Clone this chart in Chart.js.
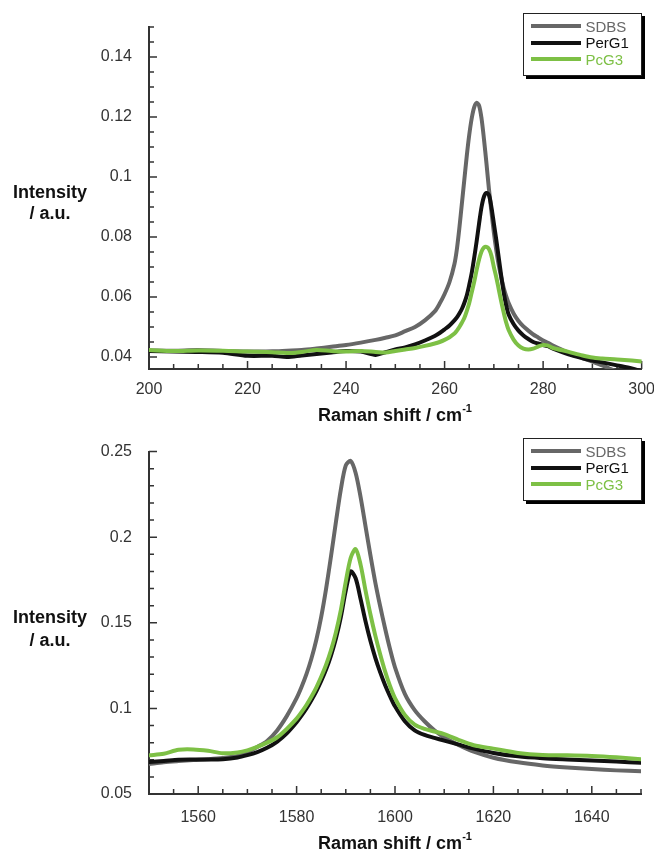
<!DOCTYPE html>
<html>
<head>
<meta charset="utf-8">
<script src="https://cdn.jsdelivr.net/npm/chart.js@4.4.1/dist/chart.umd.min.js"></script>
<style>
  html, body { margin: 0; padding: 0; background: #fff; }
  #page { position: relative; width: 654px; height: 852px; overflow: hidden; background: #fff;
          font-family: 'Liberation Sans', Arial, Helvetica, sans-serif; }
  #page canvas { position: absolute; left: 0; }
  .ylab { position: absolute; left: 0; width: 100px; text-align: center; font-weight: bold;
          font-size: 18px; color: #111; }
  .xlab { position: absolute; left: 149px; width: 492px; text-align: center; font-weight: bold;
          font-size: 18px; line-height: 22px; color: #111; white-space: nowrap; }
  .xlab sup { font-size: 11px; line-height: 0; position: relative; top: -2px; }
  .legend { position: absolute; left: 523px; width: 117px; height: 57px; border: 1.5px solid #222;
            box-shadow: 3px 3px 0 #000; background: #fff; padding-top: 4px; }
  .legend .row { display: flex; align-items: center; height: 16.5px; font-size: 15px; }
  .legend .swatch { width: 50px; height: 4px; margin-left: 6.5px; margin-right: 5px; }
</style>
</head>
<body>
<div id="page">
  <canvas id="rbm" width="666" height="425" style="top:0px"></canvas>
  <canvas id="gband" width="658" height="427" style="top:425px"></canvas>

  <div class="ylab" style="top:182px; line-height:21px">Intensity<br>/ a.u.</div>
  <div class="ylab" style="top:606px; line-height:23px">Intensity<br>/ a.u.</div>

  <div class="xlab" style="top:404px">Raman shift / cm<sup>-1</sup></div>
  <div class="xlab" style="top:832px">Raman shift / cm<sup>-1</sup></div>

  <div class="legend" id="legendRBM" style="top:13px"></div>
  <div class="legend" id="legendG" style="top:438px"></div>
</div>

<script>
// Samples
const seriesNames = ['SDBS', 'PerG1', 'PcG3'];
const seriesColours = ['#676767', '#111111', '#7dc045'];

// Radial breathing mode region (cm^-1)
const shiftRBM = [200, 205, 210, 215, 220, 225, 228, 231, 234, 237,
                  240, 243, 246, 248, 250, 252, 254, 256, 258, 259,
                  260, 261, 262, 262.5, 263, 263.5, 264, 264.5, 265, 265.5,
                  266, 266.5, 267, 267.5, 268, 268.5, 269, 269.5, 270, 270.5,
                  271, 271.5, 272, 272.5, 273, 274, 275, 276, 277, 278,
                  279, 280, 281, 282, 285, 288, 290, 292, 295, 298, 300];
const sdbsRBM = [0.0422, 0.0421, 0.0423, 0.0420, 0.0418, 0.0419, 0.0421, 0.0423, 0.0428, 0.0434,
                 0.0440, 0.0448, 0.0457, 0.0464, 0.0472, 0.0486, 0.0500, 0.0522, 0.0552, 0.0578,
                 0.0610, 0.0650, 0.0710, 0.0760, 0.0830, 0.0910, 0.0990, 0.1070, 0.1140, 0.1195,
                 0.1232, 0.1247, 0.1238, 0.1195, 0.1125, 0.1045, 0.0960, 0.0885, 0.0815, 0.0755,
                 0.0705, 0.0665, 0.0630, 0.0603, 0.0580, 0.0545, 0.0520, 0.0502, 0.0488, 0.0475,
                 0.0465, 0.0455, 0.0447, 0.0438, 0.0415, 0.0396, 0.0385, 0.0372, 0.0352, 0.0338, 0.0330];
const perg1RBM = [0.0420, 0.0418, 0.0417, 0.0414, 0.0404, 0.0404, 0.0400, 0.0405, 0.0410, 0.0415,
                  0.0420, 0.0418, 0.0407, 0.0416, 0.0425, 0.0432, 0.0442, 0.0455, 0.0470, 0.0480,
                  0.0492, 0.0505, 0.0522, 0.0532, 0.0545, 0.0560, 0.0580, 0.0605, 0.0640, 0.0680,
                  0.0730, 0.0785, 0.0845, 0.0900, 0.0935, 0.0947, 0.0940, 0.0900, 0.0845, 0.0790,
                  0.0730, 0.0670, 0.0615, 0.0572, 0.0542, 0.0510, 0.0488, 0.0472, 0.0460, 0.0450,
                  0.0445, 0.0440, 0.0436, 0.0428, 0.0410, 0.0396, 0.0388, 0.0382, 0.0372, 0.0362, 0.0352];
const pcg3RBM = [0.0423, 0.0420, 0.0422, 0.0421, 0.0418, 0.0416, 0.0413, 0.0417, 0.0423, 0.0420,
                 0.0418, 0.0420, 0.0417, 0.0415, 0.0420, 0.0425, 0.0430, 0.0437, 0.0445, 0.0450,
                 0.0457, 0.0466, 0.0478, 0.0488, 0.0500, 0.0514, 0.0530, 0.0553, 0.0580, 0.0615,
                 0.0650, 0.0690, 0.0725, 0.0752, 0.0765, 0.0767, 0.0760, 0.0738, 0.0700, 0.0665,
                 0.0625, 0.0585, 0.0548, 0.0515, 0.0490, 0.0458, 0.0438, 0.0428, 0.0425, 0.0428,
                 0.0435, 0.0440, 0.0438, 0.0430, 0.0418, 0.0405, 0.0398, 0.0395, 0.0392, 0.0388, 0.0385];
const xTicksRBM = [200, 220, 240, 260, 280, 300];
const yTicksRBM = [0.04, 0.06, 0.08, 0.1, 0.12, 0.14];

// G band region (cm^-1)
const shiftG = [1550, 1553, 1556, 1559, 1562, 1565, 1568, 1570, 1572, 1574, 1576, 1578, 1580,
                1581, 1582, 1583, 1584, 1585, 1586, 1587, 1588, 1589, 1590,
                1591, 1592, 1593, 1594, 1595, 1596, 1597, 1598, 1599, 1600,
                1602, 1604, 1606, 1608, 1610, 1613, 1616, 1620, 1625, 1630, 1635, 1640, 1645, 1650];
const sdbsG = [0.0675, 0.0685, 0.0692, 0.0698, 0.0703, 0.0710, 0.0722, 0.0745, 0.0775, 0.0810, 0.0870, 0.0955, 0.1060,
               0.1125, 0.1200, 0.1290, 0.1400, 0.1535, 0.1700, 0.1890, 0.2090, 0.2280, 0.2420,
               0.2445, 0.2375, 0.2235, 0.2065, 0.1895, 0.1735, 0.1595, 0.1465, 0.1345, 0.1240,
               0.1085, 0.0990, 0.0925, 0.0872, 0.0830, 0.0785, 0.0747, 0.0712, 0.0685, 0.0667, 0.0655, 0.0646, 0.0638, 0.0633];
const perg1G = [0.0687, 0.0693, 0.0700, 0.0701, 0.0701, 0.0703, 0.0713, 0.0727, 0.0745, 0.0770, 0.0805, 0.0855, 0.0920,
                0.0958, 0.1000, 0.1048, 0.1100, 0.1160, 0.1228, 0.1310, 0.1410, 0.1535, 0.1690,
                0.1800, 0.1760, 0.1640, 0.1510, 0.1395, 0.1295, 0.1210, 0.1135, 0.1070, 0.1012,
                0.0925, 0.0872, 0.0845, 0.0828, 0.0812, 0.0788, 0.0765, 0.0740, 0.0720, 0.0709, 0.0702, 0.0696, 0.0690, 0.0682];
const pcg3G = [0.0726, 0.0735, 0.0758, 0.0760, 0.0752, 0.0738, 0.0743, 0.0755, 0.0775, 0.0800, 0.0830, 0.0880, 0.0940,
               0.0978, 0.1020, 0.1068, 0.1122, 0.1185, 0.1255, 0.1340, 0.1445, 0.1575, 0.1740,
               0.1880, 0.1930, 0.1840, 0.1690, 0.1550, 0.1425, 0.1315, 0.1215, 0.1130, 0.1060,
               0.0962, 0.0905, 0.0880, 0.0865, 0.0850, 0.0815, 0.0785, 0.0765, 0.0740, 0.0728, 0.0726, 0.0722, 0.0714, 0.0703];
const xTicksG = [1560, 1580, 1600, 1620, 1640];
const yTicksG = [0.05, 0.1, 0.15, 0.2, 0.25];

Chart.defaults.font.family = "'Liberation Sans', Arial, Helvetica, sans-serif";

// Major and minor tick marks pointing into the plot area
const innerTicks = {
  id: 'innerTicks',
  beforeDatasetsDraw(chart, args, o) {
    const { ctx, chartArea: a, scales: { x, y } } = chart;
    const each = (min, max, step, fn) => {
      const k0 = Math.ceil(min / step - 1e-6), k1 = Math.floor(max / step + 1e-6);
      for (let k = k0; k <= k1; k++) fn(k * step);
    };
    const isMajor = (v, m) => Math.abs(v / m - Math.round(v / m)) < 1e-6;
    ctx.save();
    ctx.strokeStyle = '#333';
    ctx.lineWidth = 1.5;
    ctx.beginPath();
    each(x.min, x.max, o.xMinor, v => {
      const px = x.getPixelForValue(v);
      const len = isMajor(v, o.xMajor) ? 8 : 5;
      ctx.moveTo(px, a.bottom);
      ctx.lineTo(px, a.bottom - len);
    });
    each(y.min, y.max, o.yMinor, v => {
      const py = y.getPixelForValue(v);
      const len = isMajor(v, o.yMajor) ? 8 : 5;
      ctx.moveTo(a.left, py);
      ctx.lineTo(a.left + len, py);
    });
    ctx.stroke();
    ctx.restore();
  }
};

function fmt(v) { return String(Number(v.toFixed(3))); }

function build(id, xs, ys, o) {
  return new Chart(document.getElementById(id), {
    type: 'line',
    data: {
      datasets: ys.map((vals, i) => ({
        label: seriesNames[i],
        data: xs.map((x, j) => ({ x: x, y: vals[j] })),
        borderColor: seriesColours[i],
        backgroundColor: seriesColours[i],
        borderWidth: 4,
        pointRadius: 0,
        tension: 0.3,
        borderJoinStyle: 'round',
        borderCapStyle: 'round',
        order: [3, 2, 1][i]
      }))
    },
    options: {
      responsive: false,
      animation: false,
      devicePixelRatio: 1,
      layout: { padding: { top: o.top, right: 17, left: 0, bottom: 0 } },
      plugins: {
        legend: { display: false },
        tooltip: { enabled: false },
        innerTicks: { xMajor: o.xMajor, xMinor: o.xMinor, yMajor: o.yMajor, yMinor: o.yMinor }
      },
      scales: {
        x: {
          type: 'linear', min: o.xMin, max: o.xMax,
          grid: { display: false, drawTicks: false },
          border: { display: true, color: '#333', width: 2 },
          ticks: { padding: o.xPad, color: '#333', font: { size: 16 }, callback: v => String(v) },
          afterBuildTicks: s => { s.ticks = o.xTicks.map(v => ({ value: v })); },
          afterFit: s => { s.height = o.xH; }
        },
        y: {
          type: 'linear', min: o.yMin, max: o.yMax,
          grid: { display: false, drawTicks: false },
          border: { display: true, color: '#333', width: 2 },
          ticks: { padding: 17, color: '#333', font: { size: 16 }, callback: v => fmt(v) },
          afterBuildTicks: s => { s.ticks = o.yTicks.map(v => ({ value: v })); },
          afterFit: s => { s.width = 149; }
        }
      }
    },
    plugins: [innerTicks]
  });
}

build('rbm', shiftRBM, [sdbsRBM, perg1RBM, pcg3RBM], {
  top: 27, xH: 56, xPad: 11,
  xMin: 200, xMax: 300, yMin: 0.036, yMax: 0.15,
  xTicks: xTicksRBM, yTicks: yTicksRBM,
  xMajor: 20, xMinor: 5, yMajor: 0.02, yMinor: 0.005
});

build('gband', shiftG, [sdbsG, perg1G, pcg3G], {
  top: 24, xH: 58, xPad: 14,
  xMin: 1550, xMax: 1650, yMin: 0.05, yMax: 0.25,
  xTicks: xTicksG, yTicks: yTicksG,
  xMajor: 20, xMinor: 5, yMajor: 0.05, yMinor: 0.01
});

// Legend boxes
function fillLegend(id) {
  const box = document.getElementById(id);
  seriesNames.forEach((name, i) => {
    const row = document.createElement('div');
    row.className = 'row';
    const sw = document.createElement('span');
    sw.className = 'swatch';
    sw.style.background = seriesColours[i];
    const tx = document.createElement('span');
    tx.textContent = name;
    tx.style.color = seriesColours[i];
    row.appendChild(sw);
    row.appendChild(tx);
    box.appendChild(row);
  });
}
fillLegend('legendRBM');
fillLegend('legendG');
</script>
</body>
</html>
